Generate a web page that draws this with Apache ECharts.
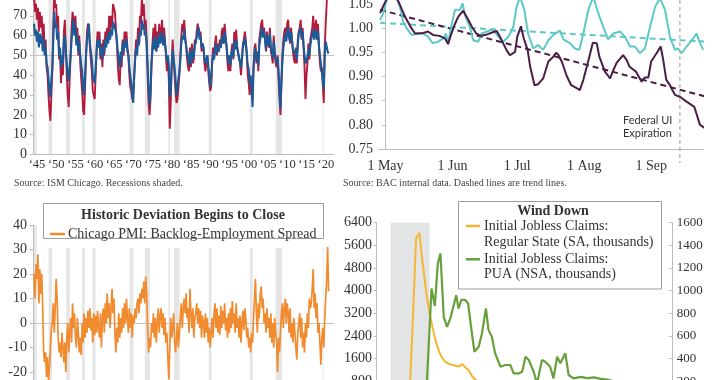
<!DOCTYPE html>
<html><head><meta charset="utf-8">
<script src="https://cdn.jsdelivr.net/npm/echarts@6/dist/echarts.min.js"></script>
<style>html,body{margin:0;padding:0;background:#fff}#c{width:720px;height:380px}</style>
</head><body><div id="c"></div>
<script>
// ---------- Panel 1: Chicago PMI (quarterly, from 1945 Q1) ----------
const pmiStartYear = 1945;
const pmiRed = [
80,72,76,68, 74,62,72,64, 70,58,66,52, 58,44,40,30, 22,17,30,42,
66,84,74,76, 64,70,48,52, 36,48,40,62, 68,54,40,30, 24,38,50,64,
72,73,64,70, 56,64,50,60, 46,38,32,22, 20,34,50,62, 66,64,54,48,
42,32,30,28, 40,54,62,56, 62,48,56,44, 58,50,62,56, 64,58,70,62,
70,64,76,74, 72,64,56,46, 38,35,50,44, 58,50,62,56, 62,54,50,40,
34,32,28,30, 38,50,58,52, 64,58,70,66, 80,70,76,64, 68,58,40,26,
20,28,46,56, 64,54,66,52, 62,56,66,58, 62,68,56,64, 58,50,42,48,
38,13,26,46, 58,48,40,32, 26,28,34,40, 50,60,66,62, 68,60,54,48,
44,42,54,44, 56,46,48,58, 56,62,66,66, 60,62,52,56, 54,46,42,46,
50,42,36,32, 34,46,54,48, 56,60,50,56, 52,58,54,62, 64,56,66,60,
54,46,42,50, 42,52,56,48, 62,54,63,54, 54,48,46,40, 48,56,58,62,
58,50,40,36, 30,38,32,28, 44,54,56,46, 52,42,58,62, 66,68,60,64,
58,52,62,56, 54,64,52,50, 46,60,52,46, 44,50,38,28, 20,36,50,58,
62,64,58,66, 68,60,56,64, 64,52,48,46, 54,46,58,62, 64,68,58,64,
54,44,28,40, 46,56,48,58, 58,64,70,60, 64,68,58,66, 54,46,42,44,
44,26,54,66, 76,86,80];
const pmiBlue = [
66,60,63,57, 62,54,61,56, 60,52,58,50, 54,46,44,38, 33,29,38,44,
58,72,64,66, 58,62,50,54, 44,50,46,58, 60,52,46,40, 37,44,50,58,
64,68,60,65, 55,60,52,57, 50,45,42,33, 30,40,50,58, 62,66,56,52,
48,40,38,36, 44,52,58,54, 58,50,54,48, 55,52,58,54, 60,56,62,58,
63,60,67,68, 66,62,58,52, 47,44,52,48, 56,52,58,54, 58,52,50,44,
40,36,30,26, 40,48,54,50, 58,55,62,60, 68,63,66,60, 62,55,45,33,
25,32,46,52, 58,53,60,52, 58,54,61,56, 58,62,55,60, 56,52,47,50,
45,29,32,44, 53,48,44,38, 30,34,38,42, 48,56,60,58, 63,58,55,52,
48,45,52,46, 53,48,50,55, 54,59,62,64, 58,60,54,56, 54,49,46,48,
50,44,41,34, 38,46,51,48, 53,56,51,54, 52,56,54,58, 60,56,62,58,
55,49,46,50, 45,51,53,49, 57,53,58,54, 53,49,48,44, 49,54,56,59,
56,51,45,43, 36,40,34,24, 43,50,54,48, 51,45,55,58, 62,64,59,62,
58,53,60,57, 55,61,54,52, 49,57,52,48, 46,49,42,33, 23,37,47,54,
58,61,57,62, 64,59,57,62, 61,53,51,50, 53,48,55,61, 62,64,59,62,
55,50,46,45, 49,53,50,55, 56,61,63,58, 60,63,58,62, 55,50,46,47,
46,33,51,57, 58,52,51];
// ---------- Panel 3: Backlog - Employment spread (quarterly, from 1945 Q1) ----------
const spreadOrange = [
20,10,24,18, 28,8,22,12, 20,6,-12,-16, -12,-22,-14,-24, -18,-10,-2,0,
8,-4,6,18, 10,-6,-12,-8, -14,-4,-10,-16, -8,-20,-6,0, -12,-4,2,-8,
8,-2,4,-6, -10,2,-4,-12, -6,-13,0,-8, 4,-6,2,-4, 5,-2,6,-3,
2,-8,4,-5, 3,-4,5,-2, -6,4,-10,2, 6,-4,8,0, 12,2,8,-2,
6,14,4,10, -4,-12,-2,-8, 4,-6,2,-4, 6,-2,8,0, 10,2,-4,6,
-2,4,-6,3, 0,6,2,8, 10,4,12,8, 14,10,17,8, 19,12,-2,-12,
-6,-10,0,-4, 4,-6,2,-8, 0,6,-4,3, 6,-2,4,-5, 2,-8,-4,-14,
-23,-10,2,-6, -2,4,-8,-12, -6,0,-10,-4, 2,8,-2,6, 10,4,12,2,
6,-4,14,4, -2,6,-6,2, 4,8,0,6, -2,5,-6,3, 0,-6,4,-4,
2,-8,-2,-10, -4,2,-6,4, 8,-2,6,-4, 3,-5,7,-2, 5,0,8,-3,
2,-6,4,-4, 6,-2,9,0, 4,-4,8,-2, 2,-6,3,-8, 0,5,-3,6,
2,-6,-2,-10, -6,-12,-4,-8, 2,10,18,4, -4,8,2,12, 15,6,10,0,
4,-4,6,-2, 2,-6,4,-8, 0,-10,2,-4, -8,-20,-6,-12, -4,4,8,-2,
6,10,0,8, 4,-4,6,-6, 0,-8,2,-4, -10,-15,-4,0, 4,-6,2,-10,
-4,-12,0,-6, 4,-2,10,6, 8,14,22,6, 12,2,8,-4, 0,-8,-17,-6,
-2,-10,2,10, 18,31,13];
const recessions = [[1945.1,1945.8],[1948.9,1949.8],[1953.5,1954.4],[1957.6,1958.3],[1960.3,1961.1],
  [1969.9,1970.9],[1973.9,1975.2],[1980.0,1980.5],[1981.5,1982.9],[1990.5,1991.2],
  [2001.2,2001.9],[2007.9,2009.5],[2020.1,2020.3]];
const yearTicks = [1945,1950,1955,1960,1965,1970,1975,1980,1985,1990,1995,2000,2005,2010,2015,2020];

// ---------- Panel 2: BAC internal data (days since 1 May) ----------
const monthTickDays = [0,31,61,92,123];
const monthTickLabels = ['1 May','1 Jun','1 Jul','1 Aug','1 Sep'];
const cyanDays = [-2.5,-1,1.3,4.4,6.7,8.2,9.8,12,14.4,17.5,19.8,21.8,24.4,26.8,28,29,30.6,32.2,34.5,35.7,
  36.8,39,40.6,43,44.5,46.9,49.9,52.2,54.5,56.9,59.2,60.7,62.3,64.3,66,68.4,70.7,73,75.4,77.7,
  80.8,82.3,85.4,87.7,89.7,91.6,93.9,96.2,98.5,100.8,103,105.5,108.6,110.9,113.2,115.5,117.8,120.1,122.5,124.8,
  127.1,129.4,131.7,134,135.5,137,139.4,142.5,144,145.6,147.1];
const cyanVals = [1.017,1.031,1.07,1.07,1.044,1.013,1.0,0.986,0.988,0.989,0.982,0.969,0.972,0.979,0.989,0.969,1.007,1.038,1.038,1.051,
  1.027,1.003,0.975,0.972,0.989,0.993,0.998,0.982,0.972,0.982,1.003,1.044,1.065,1.038,0.989,0.958,0.965,0.955,0.975,0.986,
  0.995,0.977,0.969,0.958,0.955,0.989,1.038,1.065,1.031,1.003,0.977,0.989,0.993,0.982,0.962,0.962,0.948,0.958,1.003,1.044,
  1.062,1.038,0.982,0.955,0.958,0.948,0.962,0.979,0.989,0.969,0.955];
const plumDays = [-2.5,1,3.5,5.5,6.7,9,12,13.7,17.5,19.7,22,25,27.5,29,30,32,33.7,36,38,40,
  42,44,47,50,51.5,53,56,57.6,60,61,62.7,64,65.8,67,69,70.7,73,75.4,77.7,79,
  80,81.6,84,86,88.5,90,91.6,94,96,97.8,99,101.6,104,105.5,107,110,111.7,113,116,118.6,
  120,121.7,123,125.5,127.4,128.6,130,131.7,134,136.3,139.4,143,145.6,148];
const plumVals = [1.031,1.065,1.07,1.06,1.048,1.024,1.0,0.989,0.99,0.993,0.986,0.984,0.979,0.967,0.982,1.007,1.024,1.036,1.02,1.003,
  0.989,0.984,0.987,0.992,0.994,0.982,0.955,0.944,0.951,0.982,1.004,0.979,0.955,0.92,0.882,0.884,0.896,0.931,0.941,0.949,
  0.945,0.931,0.9,0.882,0.876,0.872,0.893,0.934,0.97,0.969,0.941,0.91,0.896,0.913,0.928,0.944,0.934,0.92,0.91,0.889,
  0.898,0.898,0.931,0.948,0.962,0.934,0.893,0.882,0.862,0.858,0.848,0.837,0.8,0.793];
const trendDays = [-2.5,148.6];
const cyanTrend = [1.011,0.972];
const plumTrend = [1.038,0.858];
const uiExpirationDay = 136.3;

// ---------- Panel 4: Jobless claims (weeks since start of 2020) ----------
const claimsRegular = [212,215,220,208,205,214,216,211,219,210,251,2920,5840,6050,4970,4030,3250,2700,2200,1850,
  1600,1480,1420,1380,1350,1320,1410,1290,1180,980,860,790,770,760,750,745,740,735,730,720,
  715,710,712,720,740,750,760,770,760,750,745,740,735,760,780,770,750,735,720,710,
  700,690,680,670,640,600,560,540,520,500,480,460,440,420,410,400,390,380,370,360,
  350,345,340,335,330,320,315,310,300,295];
const puaWeeks = [15,16.7,17.7,18.6,19.4,20.4,21.4,22.4,24.2,24.9,25.8,27,27.8,28.5,29.7,31,32,33.2,34,35,
  36,37.6,39.1,40.6,41.6,43.1,44.2,45.2,46.2,47.7,48.7,50.2,51.2,52.7,53.7,54.8,55.8,57.3,58.3,59.8,
  62,64,66,68,70,72,75,78,82,86,89];
const puaVals = [20,1019,865,1240,1328,769,681,755,960,843,922,916,887,725,461,505,623,843,652,593,
  447,329,344,344,270,270,285,417,388,285,180,388,373,329,226,417,359,447,256,226,
  240,228,235,222,215,200,170,150,120,100,90];
const recessionWeeks = [4.3,16.1];

// ---------- styling ----------
const SERIF = '"Liberation Serif","DejaVu Serif",serif';
const SANS = 'Lato,"Open Sans",sans-serif';
const AX = '#bcbcbc', TXT = '#333', BAND = '#e5e5e5';
const RED = '#b31b3c', BLUE = '#1b5b97', CYAN = '#5dc9c6', PLUM = '#4a1c47',
      ORANGE = '#f08b2f', YELLOW = '#f6b633', GREEN = '#67a03b';

const qx = i => pmiStartYear + i * 0.25 + 0.125;
const bands = recessions.map(r => [{xAxis: r[0]}, {xAxis: r[1]}]);
const axLine = {show: true, lineStyle: {color: AX, width: 1}};
const lbl = (size, margin) => ({color: TXT, fontFamily: SERIF, fontSize: size, margin: margin});
const plain = v => String(v);

const chart = echarts.init(document.getElementById('c'));
const option = {
  animation: false,
  backgroundColor: '#fff',
  grid: [
    {left: 33, top: -4, width: 301, height: 158.5, outerBoundsMode: 'none', containLabel: false},
    {left: 379, top: -20.2, width: 324, height: 169.2, outerBoundsMode: 'none', containLabel: false},
    {left: 33, top: 225, width: 301, height: 196, outerBoundsMode: 'none', containLabel: false},
    {left: 376.5, top: 222.7, width: 295.3, height: 181.3, outerBoundsMode: 'none', containLabel: false}
  ],
  xAxis: [
    {gridIndex: 0, type: 'value', min: 1944.85, max: 2023.03, axisLine: axLine, axisTick: {show: false}, splitLine: {show: false},
     axisLabel: Object.assign(lbl(12.5, 4), {customValues: yearTicks.map(y => y + 0.9), hideOverlap: false,
       formatter: v => '\u2018' + String(Math.round(v - 0.9) % 100).padStart(2, '0')})},
    {gridIndex: 1, type: 'value', min: -3, max: 147, axisLine: axLine, axisTick: {show: false}, splitLine: {show: false},
     axisLabel: Object.assign(lbl(14, 10), {customValues: monthTickDays,
       formatter: v => monthTickLabels[monthTickDays.indexOf(v)] || ''})},
    {gridIndex: 2, type: 'value', min: 1944.85, max: 2023.03, axisLine: axLine, axisTick: {show: false}, splitLine: {show: false}, axisLabel: {show: false}},
    {gridIndex: 3, type: 'value', min: 0, max: 89.6, axisLine: axLine, axisTick: {show: false}, splitLine: {show: false}, axisLabel: {show: false}}
  ],
  yAxis: [
    {gridIndex: 0, type: 'value', min: 0, max: 80, interval: 10, axisLine: axLine,
     axisTick: {show: true, length: 3, lineStyle: {color: AX}}, splitLine: {show: false},
     axisLabel: Object.assign(lbl(14, 6), {formatter: v => v >= 80 ? '' : String(v)})},
    {gridIndex: 1, type: 'value', min: 0.75, max: 1.10, interval: 0.05, axisLine: axLine,
     axisTick: {show: true, length: 3, lineStyle: {color: AX}}, splitLine: {show: false},
     axisLabel: Object.assign(lbl(14, 6), {formatter: v => v > 1.07 ? '' : v.toFixed(2)})},
    {gridIndex: 2, type: 'value', min: -40, max: 40, interval: 10, axisLine: axLine,
     axisTick: {show: true, length: 3, lineStyle: {color: AX}}, splitLine: {show: false},
     axisLabel: Object.assign(lbl(14, 6), {formatter: plain})},
    {gridIndex: 3, type: 'value', min: 0, max: 6400, interval: 800, axisLine: axLine,
     axisTick: {show: true, length: 3, lineStyle: {color: AX}}, splitLine: {show: false},
     axisLabel: Object.assign(lbl(14, 4.5), {formatter: plain})},
    {gridIndex: 3, type: 'value', position: 'right', min: 0, max: 1600, interval: 200, axisLine: axLine,
     axisTick: {show: true, inside: true, length: 3, lineStyle: {color: AX}}, splitLine: {show: false},
     axisLabel: Object.assign(lbl(13, 5), {formatter: plain})}
  ],
  series: [
    {type: 'line', xAxisIndex: 0, yAxisIndex: 0, z: 2, showSymbol: false, data: pmiRed.map((v, i) => [qx(i), v]),
     lineStyle: {color: RED, width: 1.9},
     markArea: {silent: true, z: 0, itemStyle: {color: BAND}, data: bands},
     markLine: {silent: true, z: 1, symbol: 'none', label: {show: false}, lineStyle: {color: '#c4c4c4', width: 1, type: 'solid'}, data: [{yAxis: 50}]}},
    {type: 'line', xAxisIndex: 0, yAxisIndex: 0, z: 3, showSymbol: false, data: pmiBlue.map((v, i) => [qx(i), v]),
     lineStyle: {color: BLUE, width: 2.1}},
    {type: 'line', xAxisIndex: 1, yAxisIndex: 1, z: 2, showSymbol: false, data: trendDays.map((d, i) => [d, cyanTrend[i]]),
     clip: false, lineStyle: {color: CYAN, width: 2, type: [6, 4]}},
    {type: 'line', xAxisIndex: 1, yAxisIndex: 1, z: 2, showSymbol: false, data: trendDays.map((d, i) => [d, plumTrend[i]]),
     clip: false, lineStyle: {color: PLUM, width: 2, type: [6, 4]}},
    {type: 'line', xAxisIndex: 1, yAxisIndex: 1, z: 3, showSymbol: false, data: cyanDays.map((d, i) => [d, cyanVals[i]]),
     clip: false, lineStyle: {color: CYAN, width: 2}},
    {type: 'line', xAxisIndex: 1, yAxisIndex: 1, z: 4, showSymbol: false, data: plumDays.map((d, i) => [d, plumVals[i]]),
     clip: false, lineStyle: {color: PLUM, width: 2}},
    {type: 'line', xAxisIndex: 2, yAxisIndex: 2, z: 2, showSymbol: false, data: spreadOrange.map((v, i) => [qx(i), v]),
     lineStyle: {color: ORANGE, width: 1.7},
     markArea: {silent: true, z: 0, itemStyle: {color: BAND}, data: bands},
     markLine: {silent: true, z: 1, symbol: 'none', label: {show: false}, lineStyle: {color: '#c4c4c4', width: 1, type: 'solid'}, data: [{yAxis: 0}]}},
    {type: 'line', xAxisIndex: 3, yAxisIndex: 3, z: 2, showSymbol: false, data: claimsRegular.map((v, i) => [i, v]),
     lineStyle: {color: YELLOW, width: 2},
     markArea: {silent: true, z: 0, itemStyle: {color: '#e3e4e6'}, data: [[{xAxis: recessionWeeks[0]}, {xAxis: recessionWeeks[1]}]]}},
    {type: 'line', xAxisIndex: 3, yAxisIndex: 4, z: 3, showSymbol: false, data: puaWeeks.map((w, i) => [w, puaVals[i]]),
     lineStyle: {color: GREEN, width: 2.2}}
  ]
};
chart.setOption(option);

const uiX = chart.convertToPixel({gridIndex: 1}, [uiExpirationDay, 0.75])[0];
const txt = (x, y, s, o) => ({type: 'text', x: x, y: y, z: 20, style: Object.assign({text: s, fill: TXT, font: '14px ' + SERIF, textVerticalAlign: 'middle'}, o || {})});
chart.setOption({graphic: {elements: [
  txt(14, 183.5, 'Source: ISM Chicago. Recessions shaded.', {font: '10px ' + SERIF, fill: '#444'}),
  txt(343, 183.5, 'Source: BAC internal data. Dashed lines are trend lines.', {font: '10px ' + SERIF, fill: '#444'}),
  {type: 'line', z: 15, shape: {x1: uiX, y1: 0, x2: uiX, y2: 163}, style: {stroke: '#aaa', lineWidth: 1.2, lineDash: [4, 3]}},
  txt(uiX - 57, 120, 'Federal UI', {font: '11px ' + SANS, fill: '#333'}),
  txt(uiX - 57, 133.5, 'Expiration', {font: '11px ' + SANS, fill: '#333'}),
  // legend: panel 3
  {type: 'rect', z: 18, shape: {x: 43, y: 238, width: 281, height: 10}, style: {fill: '#fff'}},
  {type: 'rect', z: 19, shape: {x: 43.5, y: 203.5, width: 280, height: 35}, style: {fill: '#fff', stroke: '#9c9c9c', lineWidth: 1}},
  txt(183, 215.5, 'Historic Deviation Begins to Close', {font: 'bold 14px ' + SERIF, textAlign: 'center'}),
  {type: 'line', z: 20, shape: {x1: 50, y1: 234, x2: 65, y2: 234}, style: {stroke: ORANGE, lineWidth: 2.5}},
  txt(68, 234, 'Chicago PMI: Backlog-Employment Spread', {font: '14px ' + SERIF}),
  // legend: panel 4
  {type: 'rect', z: 19, shape: {x: 458.5, y: 201.5, width: 203, height: 87.5}, style: {fill: '#fff', stroke: '#9c9c9c', lineWidth: 1}},
  txt(553, 211, 'Wind Down', {font: 'bold 14px ' + SERIF, textAlign: 'center'}),
  {type: 'line', z: 20, shape: {x1: 466, y1: 226, x2: 480, y2: 226}, style: {stroke: YELLOW, lineWidth: 2.5}},
  txt(484, 226, 'Initial Jobless Claims:'),
  txt(484, 242.7, 'Regular State (SA, thousands)'),
  {type: 'line', z: 20, shape: {x1: 466, y1: 259.3, x2: 480, y2: 259.3}, style: {stroke: GREEN, lineWidth: 2.5}},
  txt(484, 259.3, 'Initial Jobless Claims:'),
  txt(484, 274.5, 'PUA (NSA, thousands)')
]}});
</script></body></html>
